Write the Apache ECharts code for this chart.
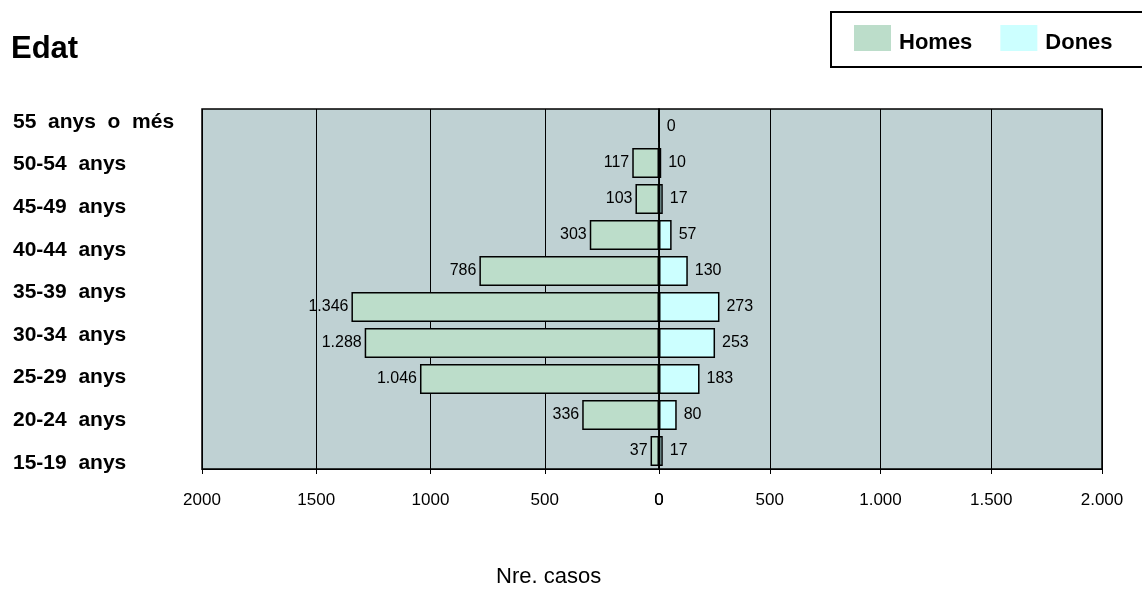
<!DOCTYPE html>
<html>
<head>
<meta charset="utf-8">
<script src="https://cdn.jsdelivr.net/npm/echarts@6/dist/echarts.min.js"></script>
<style>
html,body{margin:0;padding:0;background:#fff;}
#c{width:1142px;height:592px;}
</style>
</head>
<body>
<div id="c"></div>
<script>
// Bar rows, bottom to top (top row has no label in the reference)
const barRows = ["15-19 anys","20-24 anys","25-29 anys","30-34 anys","35-39 anys","40-44 anys","45-49 anys","50-54 anys","55 anys o més",""];
const homes = [37, 336, 1046, 1288, 1346, 786, 303, 103, 117, null];
const dones = [17, 80, 183, 253, 273, 130, 57, 17, 10, 0];
// Age labels shown at left, bottom to top
const ageLabels = ["15-19  anys","20-24  anys","25-29  anys","30-34  anys","35-39  anys","40-44  anys","45-49  anys","50-54  anys","55  anys  o  més"];

const FONT = '"Liberation Sans", Arial, sans-serif';
const fmtDot = v => { const s = String(Math.abs(Math.round(v))); return s.replace(/\B(?=(\d{3})+(?!\d))/g, '.'); };

const chart = echarts.init(document.getElementById('c'), null, {renderer:'canvas'});
const axisCommon = {
  type:'value', min:0, max:2000, interval:500,
  axisLine:{show:true, lineStyle:{color:'#000', width:1}},
  axisTick:{show:true, length:5, lineStyle:{color:'#000'}},
  splitLine:{show:true, lineStyle:{color:'#000', width:1}},
};
chart.setOption({
  animation:false,
  backgroundColor:'#fff',
  textStyle:{fontFamily:FONT},
  legend:{
    data:['Homes','Dones'], left:854, top:25, padding:0, itemWidth:37, itemHeight:26, itemGap:28,
    icon:'rect', itemStyle:{borderWidth:0},
    formatter:'{t|{name}}',
    textStyle:{fontFamily:FONT, fontWeight:'bold', fontSize:22, color:'#000',
      rich:{t:{fontFamily:FONT, fontWeight:'bold', fontSize:22, color:'#000', padding:[10,0,0,3]}}}
  },
  graphic:[
    {type:'rect', z:-1, shape:{x:831, y:12, width:330, height:55}, style:{fill:'#fff', stroke:'#000', lineWidth:2}},
    {type:'text', left:11, top:34, style:{text:'Edat', font:'bold 31px '+FONT, fill:'#000'}},
    {type:'text', left:496, top:566, style:{text:'Nre. casos', font:'22px '+FONT, fill:'#000'}}
  ],
  grid:[
    {left:202, top:109, width:457, height:360, show:true, backgroundColor:'#BFD1D3', borderColor:'#000', borderWidth:1.5},
    {left:659, top:109, width:443, height:360, show:true, backgroundColor:'#BFD1D3', borderColor:'#000', borderWidth:1.5},
    {left:202, top:100.5, width:1, height:383.8, show:false}
  ],
  xAxis:[
    Object.assign({}, axisCommon, {gridIndex:0, inverse:true,
      axisLabel:{margin:23, fontSize:17, color:'#000', fontFamily:FONT, formatter:v=>String(v)}}),
    Object.assign({}, axisCommon, {gridIndex:1,
      axisLabel:{margin:23, fontSize:17, color:'#000', fontFamily:FONT, formatter:v=>fmtDot(v)}}),
    {type:'value', gridIndex:2, show:false}
  ],
  yAxis:[
    {type:'category', gridIndex:0, data:barRows, show:false},
    {type:'category', gridIndex:1, data:barRows, show:false},
    {type:'category', gridIndex:2, data:ageLabels,
      axisLine:{show:false}, axisTick:{show:false},
      axisLabel:{align:'left', margin:189, fontSize:21, fontWeight:'bold', color:'#000', fontFamily:FONT}}
  ],
  series:[
    {name:'Homes', type:'bar', xAxisIndex:0, yAxisIndex:0, data:homes, barWidth:30,
      itemStyle:{color:'#BCDDCA', borderColor:'#000', borderWidth:1.5},
      label:{show:true, position:'left', distance:3, fontSize:16, color:'#000', fontFamily:FONT,
        formatter:p=>p.value==null?'':fmtDot(p.value)}},
    {name:'Dones', type:'bar', xAxisIndex:1, yAxisIndex:1, data:dones, barWidth:30,
      itemStyle:{color:'#CCFFFF', borderColor:'#000', borderWidth:1.5},
      label:{show:true, position:'right', distance:7, fontSize:16, color:'#000', fontFamily:FONT,
        formatter:p=>fmtDot(p.value)}}
  ]
});
</script>
</body>
</html>
